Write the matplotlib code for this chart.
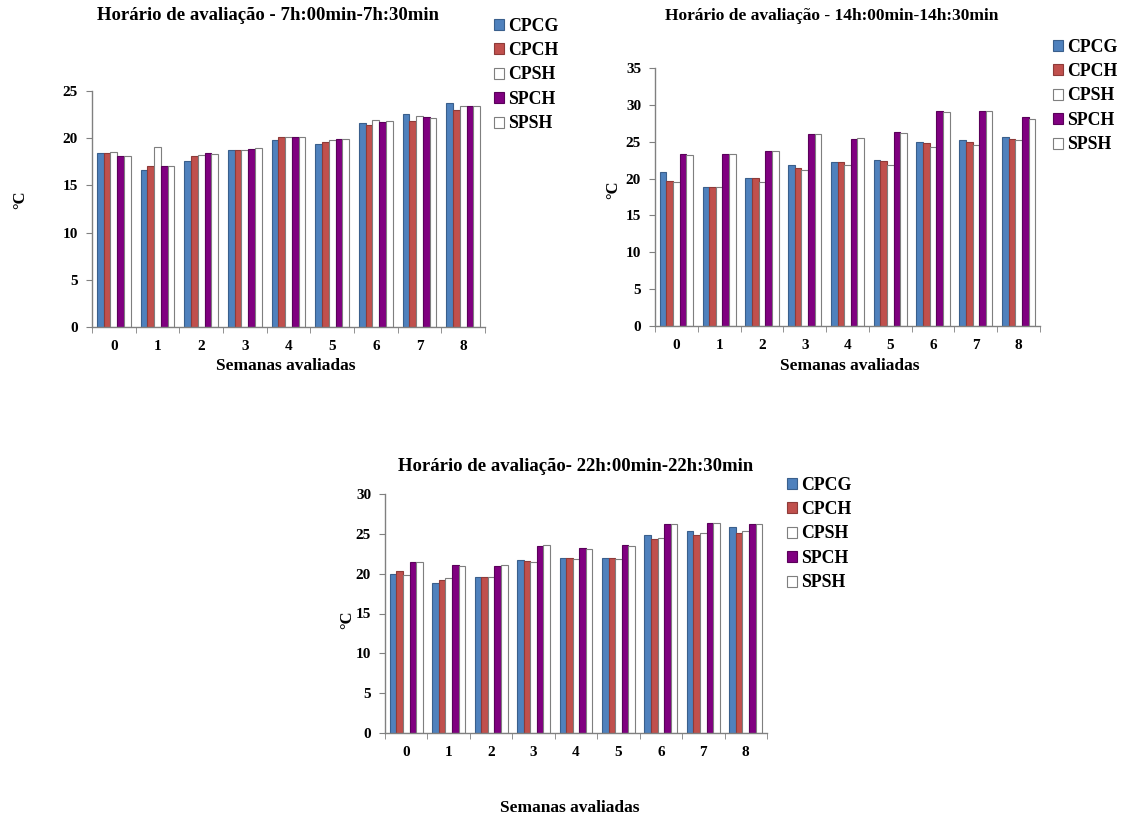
import numpy as np
import matplotlib
matplotlib.use("Agg")
import matplotlib.pyplot as plt

plt.rcParams['font.family'] = ['Liberation Serif', 'DejaVu Serif']
plt.rcParams['font.weight'] = 'bold'

weeks = ['0', '1', '2', '3', '4', '5', '6', '7', '8']
series = ['CPCG', 'CPCH', 'CPSH', 'SPCH', 'SPSH']

# Horário 7h:00-7h:30
m_cpcg = [18.4, 16.6, 17.6, 18.8, 19.8, 19.4, 21.6, 22.6, 23.7]
m_cpch = [18.4, 17.1, 18.1, 18.8, 20.1, 19.6, 21.4, 21.8, 23.0]
m_cpsh = [18.5, 19.1, 18.2, 18.8, 20.1, 19.8, 21.9, 22.3, 23.4]
m_spch = [18.1, 17.1, 18.4, 18.9, 20.1, 19.9, 21.7, 22.2, 23.4]
m_spsh = [18.1, 17.1, 18.3, 19.0, 20.1, 19.9, 21.8, 22.1, 23.4]

# Horário 14h:00-14h:30
a_cpcg = [20.9, 18.9, 20.1, 21.9, 22.3, 22.5, 25.0, 25.3, 25.7]
a_cpch = [19.7, 18.9, 20.1, 21.5, 22.3, 22.4, 24.8, 25.0, 25.4]
a_cpsh = [19.6, 18.8, 19.5, 21.1, 21.9, 21.9, 24.3, 24.6, 25.2]
a_spch = [23.3, 23.3, 23.8, 26.0, 25.4, 26.3, 29.2, 29.1, 28.4]
a_spsh = [23.2, 23.4, 23.7, 26.0, 25.5, 26.2, 29.0, 29.2, 28.1]

# Horário 22h:00-22h:30
n_cpcg = [19.9, 18.8, 19.6, 21.7, 22.0, 22.0, 24.9, 25.4, 25.8]
n_cpch = [20.3, 19.2, 19.6, 21.6, 22.0, 22.0, 24.3, 24.9, 25.1]
n_cpsh = [19.8, 19.5, 19.6, 21.5, 21.8, 21.9, 24.5, 25.1, 25.3]
n_spch = [21.5, 21.1, 21.0, 23.5, 23.2, 23.6, 26.2, 26.3, 26.2]
n_spsh = [21.5, 21.0, 21.1, 23.6, 23.1, 23.5, 26.2, 26.4, 26.2]

titles = ['Horário de avaliação - 7h:00min-7h:30min',
          'Horário de avaliação - 14h:00min-14h:30min',
          'Horário de avaliação- 22h:00min-22h:30min']
xlabel = 'Semanas avaliadas'
ylabel = '°C'

face = ['#4F81BD', '#C0504D', '#FFFFFF', '#800080', '#FFFFFF']
edge = ['#3A5F8C', '#8E3B39', '#7F7F7F', '#5A005A', '#7F7F7F']

W, H = 1141, 821
fig = plt.figure(figsize=(W / 100, H / 100), dpi=100)

def fr(x0, y_bottom, x1, y_top):
    return [x0 / W, 1 - y_bottom / H, (x1 - x0) / W, (y_bottom - y_top) / H]

panels = [
    dict(rect=fr(92, 327, 485, 91), data=[m_cpcg, m_cpch, m_cpsh, m_spch, m_spsh],
         ymax=25, title_xy=(268, 16), title_fs=13.5, xl_xy=(286, 366), yl_xy=(20, 200),
         leg_xy=(490, 14)),
    dict(rect=fr(655, 326, 1040, 68), data=[a_cpcg, a_cpch, a_cpsh, a_spch, a_spsh],
         ymax=35, title_xy=(832, 16), title_fs=12.5, xl_xy=(850, 366), yl_xy=(613, 190),
         leg_xy=(1049, 35)),
    dict(rect=fr(385, 733, 767, 494), data=[n_cpcg, n_cpch, n_cpsh, n_spch, n_spsh],
         ymax=30, title_xy=(576, 466), title_fs=13.5, xl_xy=(570, 808), yl_xy=(347, 620),
         leg_xy=(783, 473)),
]

x = np.arange(len(weeks))
bw = 0.155
for k, p in enumerate(panels):
    ax = fig.add_axes(p['rect'])
    handles = []
    for i, vals in enumerate(p['data']):
        b = ax.bar(x + (i - 2) * bw, vals, width=bw, color=face[i], edgecolor=edge[i],
                   linewidth=0.8, label=series[i])
        handles.append(b)
    ax.set_xlim(-0.5, len(weeks) - 0.5)
    ax.set_ylim(0, p['ymax'])
    ax.set_yticks(np.arange(0, p['ymax'] + 1, 5))
    ax.set_xticks(x)
    ax.set_xticklabels(weeks)
    ax.set_xticks(np.arange(len(weeks) + 1) - 0.5, minor=True)
    ax.tick_params(axis='x', which='major', length=0, pad=9, labelsize=11)
    ax.tick_params(axis='x', which='minor', length=4, direction='out', color='#808080')
    ax.tick_params(axis='y', length=4, direction='out', color='#808080', labelsize=11, pad=6)
    for s in ['top', 'right']:
        ax.spines[s].set_visible(False)
    for s in ['left', 'bottom']:
        ax.spines[s].set_color('#808080')
        ax.spines[s].set_linewidth(1.0)
    for lab in ax.get_xticklabels() + ax.get_yticklabels():
        lab.set_fontweight('bold')
    tx, ty = p['title_xy']
    fig.text(tx / W, 1 - ty / H, titles[k], ha='center', va='center',
             fontsize=p['title_fs'], fontweight='bold')
    lx, ly = p['xl_xy']
    fig.text(lx / W, 1 - ly / H, xlabel, ha='center', va='center', fontsize=12.5,
             fontweight='bold')
    yx, yy = p['yl_xy']
    fig.text(yx / W, 1 - yy / H, ylabel, ha='center', va='center', rotation=90,
             fontsize=12, fontweight='bold')
    gx, gy = p['leg_xy']
    ax.legend(handles=handles, loc='upper left', bbox_to_anchor=(gx / W, 1 - gy / H),
              bbox_transform=fig.transFigure, frameon=False,
              prop={'family': 'Liberation Serif', 'weight': 'bold', 'size': 12.8},
              handlelength=0.6, handleheight=0.6, handletextpad=0.2,
              labelspacing=0.42, borderpad=0.2, borderaxespad=0)

fig.savefig('out.png', dpi=100, facecolor='white')
